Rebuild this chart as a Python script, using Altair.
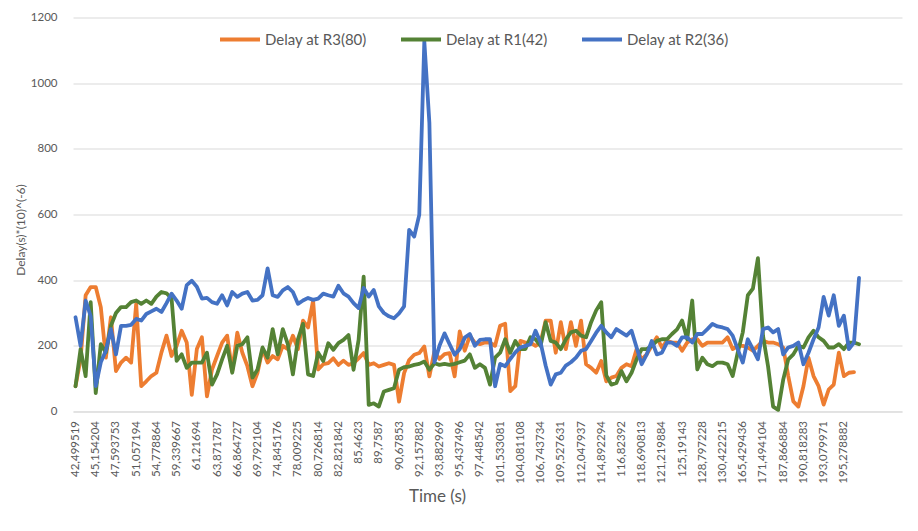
import altair as alt
import pandas as pd

# ---------------- data ----------------
time_labels = [
    "42,499519", "45,154204", "47,593753", "51,057194", "54,778864", "59,339667",
    "61,21694", "63,871787", "66,864727", "69,792104", "74,845176", "78,009225",
    "80,726814", "82,821842", "85,4623", "89,7587", "90,67853", "92,157882",
    "93,882969", "95,437496", "97,448542", "101,533081", "104,081108", "106,743734",
    "109,527631", "112,047937", "114,892294", "116,82392", "118,690813", "121,219884",
    "125,19143", "128,797228", "130,422215", "165,429436", "171,494104", "187,866884",
    "190,818283", "193,079971", "195,278882",
]
label_step = 4          # one time label every 4 categories
n_categories = 164      # category slots on the axis (last ones empty)

r3_delay = [
    77, 160, 354, 379, 379, 318, 164, 287, 123, 149,
    164, 149, 328, 77, 92, 108, 118, 180, 231, 169,
    200, 246, 210, 51, 190, 226, 46, 128, 169, 210,
    231, 123, 240, 179, 138, 77, 118, 190, 149, 169,
    159, 200, 190, 231, 190, 277, 256, 338, 128, 144,
    147, 162, 142, 155, 142, 147, 162, 178, 142, 147,
    137, 142, 147, 142, 30, 117, 157, 173, 178, 198,
    107, 183, 160, 175, 178, 107, 244, 185, 230, 210,
    205, 210, 210, 200, 261, 267, 62, 77, 215, 210,
    210, 200, 210, 277, 277, 179, 272, 190, 272, 200,
    277, 144, 133, 118, 154, 92, 103, 108, 133, 144,
    138, 190, 159, 174, 200, 226, 195, 215, 210, 210,
    185, 210, 220, 220, 200, 210, 210, 210, 210, 226,
    190, 200, 200, 195, 185, 200, 215, 210, 210, 205,
    195, 108, 31, 15, 77, 164, 108, 77, 21, 67,
    82, 179, 108, 118, 120, None,
]
r1_delay = [
    77, 190, 108, 333, 56, 205, 180, 261, 300, 318,
    318, 333, 338, 328, 338, 328, 350, 364, 360, 344,
    154, 174, 133, 149, 149, 149, 179, 82, 113, 159,
    200, 118, 200, 205, 226, 103, 128, 195, 164, 251,
    174, 251, 205, 113, 220, 267, 113, 108, 179, 154,
    208, 188, 208, 218, 233, 127, 218, 411, 20, 25,
    15, 61, 66, 71, 127, 135, 137, 142, 145, 152,
    127, 147, 142, 145, 142, 145, 150, 155, 174, 133,
    144, 133, 82, 164, 179, 220, 179, 215, 190, 190,
    226, 220, 200, 272, 215, 210, 190, 220, 241, 246,
    231, 226, 272, 308, 333, 110, 82, 87, 123, 92,
    118, 159, 190, 190, 200, 215, 220, 220, 236, 250,
    277, 220, 338, 128, 164, 144, 138, 149, 149, 144,
    108, 179, 241, 354, 374, 467, 231, 138, 15, 5,
    97, 159, 174, 200, 195, 226, 246, 226, 215, 195,
    195, 205, 190, 210, 210, 205,
]
r2_delay = [
    287, 200, 338, 290, 77, 150, 185, 251, 174, 261,
    261, 264, 282, 277, 297, 305, 313, 303, 330, 359,
    338, 313, 385, 398, 380, 344, 346, 333, 328, 354,
    323, 364, 349, 359, 364, 338, 340, 354, 436, 354,
    349, 369, 379, 364, 328, 338, 346, 340, 344, 359,
    354, 350, 383, 360, 350, 330, 315, 376, 350, 370,
    320, 300, 290, 284, 299, 320, 553, 533, 599, 1127,
    880, 150, 200, 238, 205, 173, 190, 225, 236, 200,
    218, 220, 220, 77, 145, 138, 160, 180, 195, 200,
    205, 246, 210, 140, 82, 113, 118, 140, 150, 164,
    185, 190, 215, 240, 261, 241, 226, 251, 241, 231,
    246, 195, 144, 174, 215, 174, 179, 210, 210, 200,
    226, 226, 210, 236, 236, 251, 267, 259, 256, 251,
    231, 190, 149, 220, 190, 159, 251, 256, 241, 251,
    174, 195, 200, 210, 144, 179, 220, 256, 349, 292,
    354, 261, 292, 190, 210, 407,
]

series_names = ["Delay at R3(80)", "Delay at R1(42)", "Delay at R2(36)"]
series_colors = ["#ED7D31", "#548235", "#4472C4"]
y_ticks = [0, 200, 400, 600, 800, 1000, 1200]

# ---------------- table ----------------
rows = []
for name, vals in zip(series_names, [r3_delay, r1_delay, r2_delay]):
    for i, v in enumerate(vals):
        if v is not None:
            rows.append({"idx": i, "series": name, "delay": v})
df = pd.DataFrame(rows)

label_array = "[" + ",".join("'" + t + "'" for t in time_labels) + "]"
label_expr = label_array + "[round(datum.value / " + str(label_step) + ")]"
x_values = [k * label_step for k in range(len(time_labels))]

FONT = "Lato"
GREY = "#595959"

x_enc = alt.X(
    "idx:Q",
    scale=alt.Scale(domain=[-0.5, n_categories - 0.5], nice=False, zero=False),
    axis=alt.Axis(
        values=x_values,
        labelExpr=label_expr,
        labelAngle=-90,
        labelPadding=9,
        labelFontSize=11.5,
        labelColor=GREY,
        labelFont=FONT,
        labelOverlap=False,
        labelFlush=False,
        ticks=False,
        tickSize=0,
        grid=False,
        domainColor="#D9D9D9",
        domainWidth=1,
        title="Time (s)",
        titleFont=FONT,
        titleFontSize=17,
        titleFontWeight="normal",
        titleColor=GREY,
        titleX=364,
        titleY=85,
        titleBaseline="middle",
        titleAlign="center",
    ),
)
y_enc = alt.Y(
    "delay:Q",
    scale=alt.Scale(domain=[0, 1200], nice=False),
    axis=alt.Axis(
        values=y_ticks,
        format="d",
        domain=False,
        ticks=False,
        tickSize=0,
        labelPadding=16,
        labelFontSize=11.5,
        labelColor=GREY,
        labelFont=FONT,
        gridColor="#D9D9D9",
        gridWidth=1,
        title="Delay(s)*(10)^(-6)",
        titleFont=FONT,
        titleFontSize=12,
        titleFontWeight="normal",
        titleColor=GREY,
        titleAngle=270,
        titleX=-53,
        titleY=212,
        titleAlign="center",
        titleBaseline="middle",
    ),
)
color_enc = alt.Color(
    "series:N",
    scale=alt.Scale(domain=series_names, range=series_colors),
    legend=alt.Legend(
        title=None,
        orient="none",
        legendX=145,
        legendY=0,
        direction="horizontal",
        symbolType="stroke",
        symbolSize=1600,
        symbolStrokeWidth=4,
        labelFont=FONT,
        labelFontSize=15,
        labelColor=GREY,
        labelOffset=3,
        columnPadding=26,
        padding=0,
    ),
)

base = alt.Chart(df)
layers = [
    base.transform_filter(alt.datum.series == name)
    .mark_line(strokeWidth=3.8, strokeJoin="round", strokeCap="round")
    .encode(x=x_enc, y=y_enc, color=color_enc, order="idx:Q")
    for name in series_names
]

chart = (
    alt.layer(*layers)
    .properties(
        width=829,
        height=394,
        autosize=alt.AutoSizeParams(type="none"),
        padding={"left": 65, "top": 9.5, "right": 8, "bottom": 102},
        background="white",
    )
    .configure_view(stroke=None)
)

chart.save("out.html", embed_options={"renderer": "svg", "actions": False})
